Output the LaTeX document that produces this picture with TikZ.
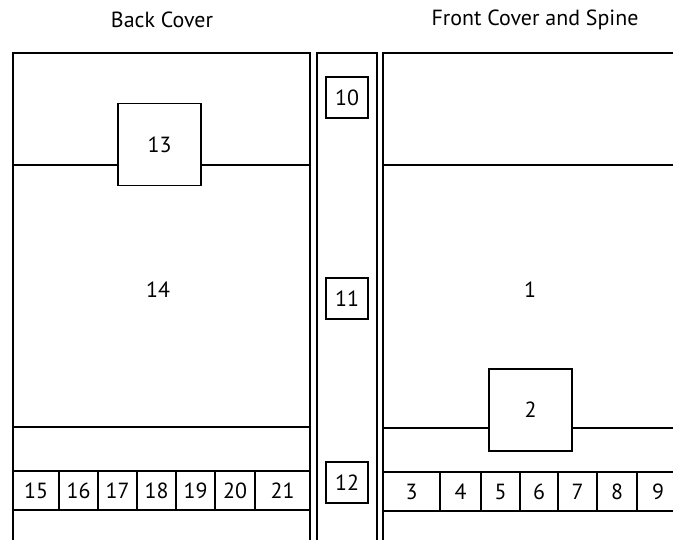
\documentclass[tikz,border=0pt]{standalone}
\usepackage{fontspec}
\setmainfont{PT Sans}
\begin{document}
\begin{tikzpicture}[x=1bp, y=-1bp, line width=1.8bp, font=\fontsize{22}{26}\selectfont,
		box/.style={draw, fill=white, inner sep=0pt, minimum width=83bp, minimum height=82bp},
		spinebox/.style={draw, fill=white, inner sep=0pt, minimum width=42bp, minimum height=41bp}]
	\useasboundingbox (0,0) rectangle (673,540);
	% Titel
	\node (backtitle) at (162,20) {Back Cover};
	\node (fronttitle) at (535,20) {Front Cover and Spine};
	% Rueckseite
	\draw (13,545) |- (310,53) -- (310,545);
	\draw (13,165) -- (310,165);
	\draw (13,427) -- (310,427);
	\draw (13,471) -- (310,471);
	\draw (13,510) -- (310,510);
	\foreach \l/\r/\n in {13/59/15, 59/98/16, 98/137/17, 137/176/18, 176/215/19, 215/255/20, 255/310/21} {
		\draw (\r,471) -- (\r,510);
		\node (c\n) at ({(\l+\r)/2},490.5) {\n};
	}
	\node[box] (b13) at (159.5,144.5) {13};
	\node (b14) at (158,290) {14};
	% Ruecken
	\draw (317,545) |- (377,53) -- (377,545);
	\node[spinebox] (b10) at (347,97.5) {10};
	\node[spinebox] (b11) at (347,298.5) {11};
	\node[spinebox] (b12) at (347,482.5) {12};
	% Vorderseite
	\draw (383,545) |- (680,53);
	\draw (383,165) -- (680,165);
	\draw (383,428) -- (680,428);
	\draw (383,472) -- (680,472);
	\draw (383,511) -- (680,511);
	\foreach \l/\r/\n in {383/440/3, 440/481/4, 481/520/5, 520/558/6, 558/597/7, 597/637/8, 637/679/9} {
		\draw (\l,472) -- (\l,511);
		\node (c\n) at ({(\l+\r)/2},491.5) {\n};
	}
	\node[box] (b2) at (530.5,410) {2};
	\node (b1) at (530,290) {1};
\end{tikzpicture}
\end{document}
